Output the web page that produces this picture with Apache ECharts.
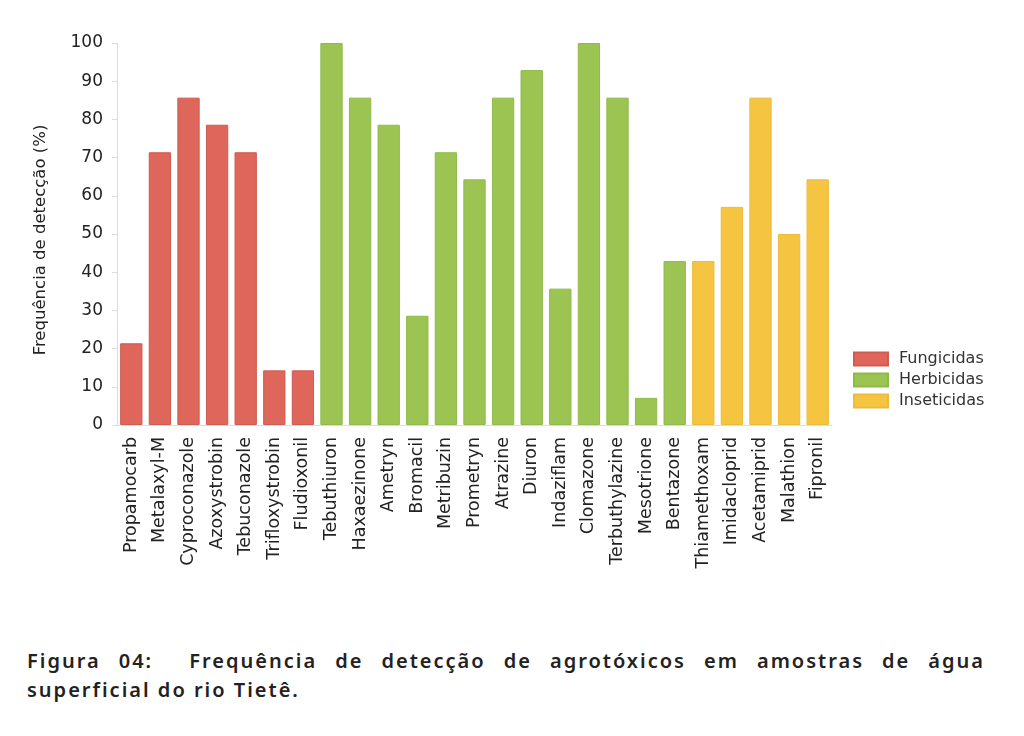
<!DOCTYPE html>
<html>
  <head>
    <meta charset="UTF-8">
    <title>Frequência de detecção</title>
    <script src="https://cdn.jsdelivr.net/npm/echarts@6/dist/echarts.min.js"></script>
    <style>
      body { margin: 0; background: #fff; }
      #chart { width: 1024px; height: 630px; }
      .cap { position: absolute; left: 27px; width: 958px; font-family: "Noto Sans", sans-serif;
             font-size: 20px; font-weight: 600; color: #222; letter-spacing: 2px; }
      .l1 { top: 647px; text-align: justify; text-align-last: justify; }
      .l2 { top: 676px; }
    </style>
  </head>
  <body>
    <div id="chart"></div>
    <div class="cap l1">Figura 04:&nbsp; Frequência de detecção de agrotóxicos em amostras de água</div>
    <div class="cap l2">superficial do rio Tietê.</div>
    <script>
      // compostos e frequências (%)
      var categories = ['Propamocarb','Metalaxyl-M','Cyproconazole','Azoxystrobin','Tebuconazole','Trifloxystrobin','Fludioxonil',
        'Tebuthiuron','Haxaezinone','Ametryn','Bromacil','Metribuzin','Prometryn','Atrazine','Diuron','Indaziflam','Clomazone',
        'Terbuthylazine','Mesotrione','Bentazone','Thiamethoxam','Imidacloprid','Acetamiprid','Malathion','Fipronil'];
      var fungicidas  = [21.4, 71.4, 85.7, 78.6, 71.4, 14.3, 14.3];
      var herbicidas  = [100, 85.7, 78.6, 28.6, 71.4, 64.3, 85.7, 92.9, 35.7, 100, 85.7, 7.1, 42.9];
      var inseticidas = [42.9, 57.1, 85.7, 50, 64.3];
      var yTicks = [0, 100, 10]; // min, max, intervalo

      // cada grupo ocupa sua faixa de categorias
      function fill(vals, start) {
        var out = [];
        for (var i = 0; i < categories.length; i++) out.push('-');
        for (var j = 0; j < vals.length; j++) out[start + j] = vals[j];
        return out;
      }

      var myChart = echarts.init(document.getElementById('chart'));
      var font = 'DejaVu Sans';
      var option = {
        textStyle: { fontFamily: font },
        animation: false,
        grid: { left: 117, right: 192, top: 43, height: 382 },
        legend: {
          orient: 'vertical', left: 848, top: 346,
          itemWidth: 34, itemHeight: 13, itemGap: 5,
          icon: 'rect',
          textStyle: { fontSize: 16, color: '#333', fontFamily: font, padding: [0, 0, 0, 6] },
          data: ['Fungicidas', 'Herbicidas', 'Inseticidas']
        },
        xAxis: {
          type: 'category',
          data: categories,
          axisLine: { lineStyle: { color: '#ddd' } },
          axisTick: { alignWithLabel: true, length: 6, lineStyle: { color: '#bbb' } },
          axisLabel: { rotate: 90, interval: 0, fontSize: 17.5, color: '#222', margin: 12, fontFamily: font }
        },
        yAxis: {
          type: 'value',
          min: yTicks[0], max: yTicks[1], interval: yTicks[2],
          name: 'Frequência de detecção (%)',
          nameLocation: 'middle', nameGap: 68, nameRotate: 90,
          nameTextStyle: { fontSize: 16.5, color: '#222', fontFamily: font, padding: [0, 12, 0, 0] },
          axisLine: { show: true, lineStyle: { color: '#ddd' } },
          axisTick: { show: true, length: 5, lineStyle: { color: '#ddd' } },
          splitLine: { show: false },
          axisLabel: { fontSize: 17, color: '#222', margin: 14, fontFamily: font }
        },
        series: [
          { name: 'Fungicidas', type: 'bar', stack: 'g', barCategoryGap: '22%', data: fill(fungicidas, 0),
            itemStyle: { color: '#DE665A', borderColor: '#cf5c50', borderWidth: 1 } },
          { name: 'Herbicidas', type: 'bar', stack: 'g', data: fill(herbicidas, 7),
            itemStyle: { color: '#9BC453', borderColor: '#8fba48', borderWidth: 1 } },
          { name: 'Inseticidas', type: 'bar', stack: 'g', data: fill(inseticidas, 20),
            itemStyle: { color: '#F5C542', borderColor: '#ebbb3a', borderWidth: 1 } }
        ]
      };
      myChart.setOption(option);
    </script>
  </body>
</html>
